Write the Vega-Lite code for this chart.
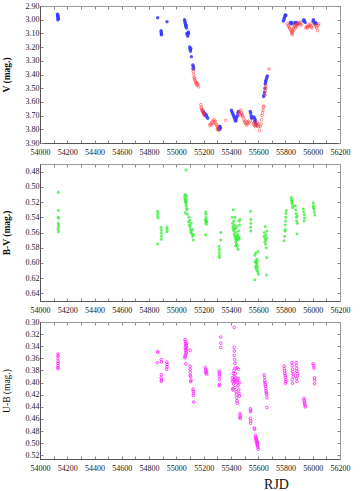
{
"$schema":"https://vega.github.io/schema/vega-lite/v6.json",
"background":"white",
"padding":{"left":0,"top":1,"right":5,"bottom":0},
"spacing":21,
"bounds":"flush",
"config":{"view":{"stroke":"#9a9a9a","strokeWidth":1},"axis":{"labelFont":"Liberation Serif","labelFontSize":8,"labelColor":"#222","titleFont":"Liberation Serif","titleColor":"#111","tickColor":"#888","domainColor":"#555","tickSize":-3,"grid":false,"labelPadding":4,"labelOverlap":false,"labelFlush":false},"axisBottom":{"labelPadding":8}},
"datasets":{
"V":[
{"t":54128,"v":2.96,"s":"B"},{"t":54130,"v":2.97,"s":"B"},{"t":54131,"v":2.975,"s":"B"},{"t":54132,"v":2.98,"s":"B"},{"t":54133,"v":2.985,"s":"B"},{"t":54134,"v":2.99,"s":"B"},{"t":54135,"v":2.995,"s":"B"},{"t":54131,"v":3.0,"s":"B"},{"t":54129,"v":2.965,"s":"B"},
{"t":54863,"v":2.985,"s":"B"},
{"t":54888,"v":3.08,"s":"B"},{"t":54889,"v":3.09,"s":"B"},{"t":54890,"v":3.1,"s":"B"},{"t":54891,"v":3.105,"s":"B"},{"t":54890,"v":3.11,"s":"B"},
{"t":54931,"v":3.015,"s":"B"},
{"t":55060,"v":3.0,"s":"B"},{"t":55062,"v":3.01,"s":"B"},{"t":55064,"v":3.02,"s":"B"},{"t":55066,"v":3.03,"s":"B"},{"t":55068,"v":3.04,"s":"B"},{"t":55070,"v":3.05,"s":"B"},{"t":55072,"v":3.04,"s":"B"},{"t":55074,"v":3.06,"s":"B"},{"t":55077,"v":3.1,"s":"B"},{"t":55080,"v":3.11,"s":"B"},{"t":55083,"v":3.12,"s":"B"},{"t":55085,"v":3.1,"s":"B"},{"t":55088,"v":3.09,"s":"B"},{"t":55090,"v":3.1,"s":"B"},
{"t":55098,"v":3.2,"s":"B"},{"t":55100,"v":3.21,"s":"B"},{"t":55102,"v":3.22,"s":"B"},{"t":55104,"v":3.23,"s":"B"},{"t":55106,"v":3.21,"s":"B"},{"t":55110,"v":3.27,"s":"B"},
{"t":55121,"v":3.33,"s":"B"},{"t":55123,"v":3.34,"s":"B"},{"t":55125,"v":3.35,"s":"B"},{"t":55127,"v":3.36,"s":"B"},
{"t":55197,"v":3.67,"s":"B"},{"t":55200,"v":3.68,"s":"B"},{"t":55204,"v":3.68,"s":"B"},{"t":55208,"v":3.69,"s":"B"},{"t":55212,"v":3.7,"s":"B"},{"t":55216,"v":3.69,"s":"B"},{"t":55220,"v":3.7,"s":"B"},{"t":55225,"v":3.71,"s":"B"},{"t":55230,"v":3.72,"s":"B"},
{"t":55308,"v":3.8,"s":"B"},{"t":55312,"v":3.79,"s":"B"},{"t":55316,"v":3.78,"s":"B"},{"t":55320,"v":3.78,"s":"B"},{"t":55324,"v":3.79,"s":"B"},{"t":55318,"v":3.8,"s":"B"},
{"t":55403,"v":3.66,"s":"B"},{"t":55407,"v":3.67,"s":"B"},{"t":55411,"v":3.68,"s":"B"},{"t":55415,"v":3.69,"s":"B"},{"t":55419,"v":3.7,"s":"B"},{"t":55423,"v":3.71,"s":"B"},{"t":55427,"v":3.72,"s":"B"},{"t":55431,"v":3.73,"s":"B"},{"t":55435,"v":3.73,"s":"B"},{"t":55439,"v":3.72,"s":"B"},{"t":55443,"v":3.71,"s":"B"},{"t":55447,"v":3.7,"s":"B"},{"t":55451,"v":3.68,"s":"B"},{"t":55455,"v":3.67,"s":"B"},{"t":55433,"v":3.74,"s":"B"},{"t":55437,"v":3.735,"s":"B"},
{"t":55542,"v":3.67,"s":"B"},{"t":55545,"v":3.68,"s":"B"},{"t":55548,"v":3.7,"s":"B"},{"t":55551,"v":3.72,"s":"B"},{"t":55553,"v":3.71,"s":"B"},
{"t":55568,"v":3.71,"s":"B"},{"t":55572,"v":3.72,"s":"B"},{"t":55576,"v":3.74,"s":"B"},{"t":55580,"v":3.75,"s":"B"},{"t":55584,"v":3.76,"s":"B"},{"t":55588,"v":3.77,"s":"B"},{"t":55578,"v":3.73,"s":"B"},
{"t":55640,"v":3.56,"s":"B"},{"t":55643,"v":3.55,"s":"B"},{"t":55646,"v":3.53,"s":"B"},{"t":55649,"v":3.5,"s":"B"},{"t":55652,"v":3.47,"s":"B"},{"t":55655,"v":3.45,"s":"B"},{"t":55658,"v":3.44,"s":"B"},{"t":55661,"v":3.43,"s":"B"},{"t":55664,"v":3.42,"s":"B"},{"t":55667,"v":3.41,"s":"B"},{"t":55654,"v":3.46,"s":"B"},
{"t":55785,"v":3.01,"s":"B"},{"t":55788,"v":3.0,"s":"B"},{"t":55791,"v":2.99,"s":"B"},{"t":55794,"v":2.98,"s":"B"},{"t":55797,"v":2.97,"s":"B"},{"t":55800,"v":2.965,"s":"B"},{"t":55803,"v":2.97,"s":"B"},
{"t":55836,"v":3.02,"s":"B"},{"t":55840,"v":3.03,"s":"B"},{"t":55845,"v":3.02,"s":"B"},{"t":55850,"v":3.03,"s":"B"},{"t":55870,"v":3.02,"s":"B"},{"t":55875,"v":3.03,"s":"B"},{"t":55880,"v":3.02,"s":"B"},{"t":55885,"v":3.03,"s":"B"},
{"t":55930,"v":3.01,"s":"B"},{"t":55935,"v":3.0,"s":"B"},{"t":55940,"v":3.01,"s":"B"},{"t":55945,"v":3.02,"s":"B"},
{"t":56002,"v":3.01,"s":"B"},{"t":56006,"v":3.0,"s":"B"},{"t":56010,"v":3.02,"s":"B"},{"t":56015,"v":3.03,"s":"B"},{"t":56020,"v":3.02,"s":"B"},{"t":56025,"v":3.03,"s":"B"},
{"t":55120,"v":3.36,"s":"R"},{"t":55124,"v":3.38,"s":"R"},{"t":55128,"v":3.4,"s":"R"},{"t":55130,"v":3.42,"s":"R"},{"t":55133,"v":3.43,"s":"R"},{"t":55136,"v":3.44,"s":"R"},{"t":55140,"v":3.45,"s":"R"},{"t":55143,"v":3.46,"s":"R"},{"t":55147,"v":3.47,"s":"R"},{"t":55150,"v":3.46,"s":"R"},{"t":55154,"v":3.48,"s":"R"},{"t":55158,"v":3.47,"s":"R"},{"t":55163,"v":3.49,"s":"R"},
{"t":55180,"v":3.62,"s":"R"},{"t":55182,"v":3.64,"s":"R"},{"t":55185,"v":3.65,"s":"R"},{"t":55188,"v":3.66,"s":"R"},{"t":55190,"v":3.67,"s":"R"},{"t":55194,"v":3.66,"s":"R"},{"t":55198,"v":3.68,"s":"R"},{"t":55202,"v":3.69,"s":"R"},{"t":55206,"v":3.7,"s":"R"},
{"t":55245,"v":3.77,"s":"R"},{"t":55250,"v":3.76,"s":"R"},{"t":55255,"v":3.77,"s":"R"},{"t":55260,"v":3.75,"s":"R"},{"t":55265,"v":3.76,"s":"R"},{"t":55270,"v":3.74,"s":"R"},{"t":55275,"v":3.73,"s":"R"},{"t":55280,"v":3.75,"s":"R"},{"t":55285,"v":3.74,"s":"R"},{"t":55290,"v":3.76,"s":"R"},{"t":55295,"v":3.77,"s":"R"},{"t":55300,"v":3.78,"s":"R"},{"t":55305,"v":3.79,"s":"R"},{"t":55310,"v":3.81,"s":"R"},{"t":55300,"v":3.8,"s":"R"},
{"t":55362,"v":3.735,"s":"R"},
{"t":55458,"v":3.68,"s":"R"},{"t":55462,"v":3.67,"s":"R"},{"t":55466,"v":3.69,"s":"R"},{"t":55470,"v":3.7,"s":"R"},{"t":55474,"v":3.66,"s":"R"},{"t":55478,"v":3.68,"s":"R"},{"t":55482,"v":3.69,"s":"R"},{"t":55486,"v":3.7,"s":"R"},{"t":55490,"v":3.71,"s":"R"},
{"t":55495,"v":3.73,"s":"R"},{"t":55500,"v":3.75,"s":"R"},{"t":55505,"v":3.74,"s":"R"},{"t":55510,"v":3.76,"s":"R"},{"t":55515,"v":3.77,"s":"R"},{"t":55520,"v":3.75,"s":"R"},{"t":55525,"v":3.76,"s":"R"},{"t":55530,"v":3.74,"s":"R"},{"t":55535,"v":3.75,"s":"R"},
{"t":55560,"v":3.74,"s":"R"},{"t":55565,"v":3.76,"s":"R"},{"t":55570,"v":3.77,"s":"R"},{"t":55575,"v":3.76,"s":"R"},{"t":55580,"v":3.78,"s":"R"},{"t":55585,"v":3.77,"s":"R"},{"t":55590,"v":3.76,"s":"R"},{"t":55595,"v":3.75,"s":"R"},{"t":55600,"v":3.78,"s":"R"},{"t":55605,"v":3.77,"s":"R"},{"t":55610,"v":3.81,"s":"R"},{"t":55615,"v":3.78,"s":"R"},{"t":55620,"v":3.76,"s":"R"},{"t":55625,"v":3.73,"s":"R"},{"t":55628,"v":3.7,"s":"R"},
{"t":55632,"v":3.68,"s":"R"},{"t":55635,"v":3.66,"s":"R"},{"t":55638,"v":3.64,"s":"R"},{"t":55640,"v":3.63,"s":"R"},
{"t":55650,"v":3.55,"s":"R"},{"t":55652,"v":3.52,"s":"R"},{"t":55655,"v":3.5,"s":"R"},{"t":55657,"v":3.48,"s":"R"},
{"t":55680,"v":3.36,"s":"R"},
{"t":55815,"v":3.03,"s":"R"},{"t":55820,"v":3.04,"s":"R"},{"t":55825,"v":3.05,"s":"R"},{"t":55830,"v":3.06,"s":"R"},{"t":55835,"v":3.07,"s":"R"},{"t":55840,"v":3.08,"s":"R"},{"t":55845,"v":3.09,"s":"R"},{"t":55848,"v":3.1,"s":"R"},{"t":55850,"v":3.11,"s":"R"},{"t":55852,"v":3.09,"s":"R"},{"t":55855,"v":3.08,"s":"R"},{"t":55858,"v":3.06,"s":"R"},{"t":55862,"v":3.07,"s":"R"},{"t":55866,"v":3.05,"s":"R"},{"t":55870,"v":3.04,"s":"R"},{"t":55875,"v":3.06,"s":"R"},{"t":55880,"v":3.05,"s":"R"},{"t":55885,"v":3.04,"s":"R"},{"t":55890,"v":3.03,"s":"R"},{"t":55895,"v":3.02,"s":"R"},{"t":55900,"v":3.03,"s":"R"},{"t":55905,"v":3.02,"s":"R"},{"t":55910,"v":3.03,"s":"R"},{"t":55915,"v":3.04,"s":"R"},
{"t":55950,"v":3.06,"s":"R"},{"t":55955,"v":3.05,"s":"R"},{"t":55960,"v":3.06,"s":"R"},{"t":55965,"v":3.05,"s":"R"},{"t":55970,"v":3.04,"s":"R"},{"t":55975,"v":3.05,"s":"R"},{"t":55980,"v":3.04,"s":"R"},{"t":55985,"v":3.03,"s":"R"},{"t":55990,"v":3.05,"s":"R"},{"t":55995,"v":3.06,"s":"R"},
{"t":56020,"v":3.04,"s":"R"},{"t":56025,"v":3.05,"s":"R"},{"t":56030,"v":3.06,"s":"R"},{"t":56035,"v":3.08,"s":"R"},{"t":56040,"v":3.04,"s":"R"},{"t":56045,"v":3.03,"s":"R"}
],
"BV":[
{"t":54134,"y":0.507},{"t":54135,"y":0.531},{"t":54133,"y":0.54},{"t":54136,"y":0.541},{"t":54134,"y":0.548},{"t":54136,"y":0.55},{"t":54135,"y":0.553},{"t":54133,"y":0.556},{"t":54136,"y":0.559},
{"t":54862,"y":0.532},{"t":54864,"y":0.535},{"t":54863,"y":0.538},{"t":54865,"y":0.541},{"t":54862,"y":0.575},
{"t":54888,"y":0.553},{"t":54890,"y":0.557},{"t":54889,"y":0.561},{"t":54891,"y":0.565},{"t":54890,"y":0.569},
{"t":54930,"y":0.553},{"t":54932,"y":0.556},{"t":54931,"y":0.559},
{"t":55071,"y":0.478},
{"t":55060,"y":0.512},{"t":55062,"y":0.515},{"t":55065,"y":0.518},{"t":55066,"y":0.51},{"t":55068,"y":0.52},{"t":55070,"y":0.522},{"t":55072,"y":0.525},{"t":55074,"y":0.512},{"t":55076,"y":0.528},{"t":55078,"y":0.53},{"t":55064,"y":0.534},{"t":55080,"y":0.536},{"t":55070,"y":0.516},{"t":55074,"y":0.519},
{"t":55088,"y":0.546},{"t":55092,"y":0.54},{"t":55095,"y":0.55},{"t":55098,"y":0.544},{"t":55100,"y":0.552},{"t":55103,"y":0.556},{"t":55106,"y":0.56},{"t":55110,"y":0.558},{"t":55114,"y":0.562},{"t":55118,"y":0.556},{"t":55120,"y":0.565},{"t":55124,"y":0.57},{"t":55126,"y":0.563},{"t":55108,"y":0.548},
{"t":55215,"y":0.533},{"t":55217,"y":0.536},{"t":55218,"y":0.54},{"t":55216,"y":0.543},{"t":55219,"y":0.545},{"t":55217,"y":0.547},{"t":55220,"y":0.549},{"t":55214,"y":0.563},{"t":55222,"y":0.546},{"t":55213,"y":0.544},
{"t":55313,"y":0.578},{"t":55315,"y":0.582},{"t":55314,"y":0.586},{"t":55316,"y":0.59},{"t":55315,"y":0.593},{"t":55326,"y":0.56},{"t":55325,"y":0.57},
{"t":55410,"y":0.54},{"t":55412,"y":0.548},{"t":55414,"y":0.552},{"t":55416,"y":0.555},{"t":55418,"y":0.53},{"t":55420,"y":0.558},{"t":55422,"y":0.545},{"t":55424,"y":0.562},{"t":55426,"y":0.55},{"t":55428,"y":0.565},{"t":55430,"y":0.54},{"t":55432,"y":0.568},{"t":55434,"y":0.555},{"t":55436,"y":0.572},{"t":55438,"y":0.56},{"t":55440,"y":0.565},{"t":55442,"y":0.575},{"t":55444,"y":0.552},{"t":55446,"y":0.568},{"t":55448,"y":0.578},{"t":55450,"y":0.563},{"t":55452,"y":0.582},{"t":55454,"y":0.57},{"t":55456,"y":0.558},{"t":55458,"y":0.566},{"t":55460,"y":0.545},{"t":55462,"y":0.568},{"t":55464,"y":0.55},{"t":55466,"y":0.543},{"t":55440,"y":0.57},{"t":55445,"y":0.566},{"t":55435,"y":0.577},{"t":55425,"y":0.554},
{"t":55544,"y":0.532},{"t":55545,"y":0.543},{"t":55546,"y":0.548},{"t":55544,"y":0.553},{"t":55546,"y":0.558},
{"t":55575,"y":0.59},{"t":55578,"y":0.598},{"t":55580,"y":0.605},{"t":55582,"y":0.587},{"t":55584,"y":0.6},{"t":55586,"y":0.608},{"t":55588,"y":0.595},{"t":55590,"y":0.603},{"t":55592,"y":0.61},{"t":55594,"y":0.597},{"t":55596,"y":0.606},{"t":55598,"y":0.612},{"t":55600,"y":0.585},{"t":55602,"y":0.615},{"t":55576,"y":0.622},{"t":55590,"y":0.6},
{"t":55642,"y":0.565},{"t":55645,"y":0.56},{"t":55648,"y":0.572},{"t":55650,"y":0.568},{"t":55652,"y":0.552},{"t":55654,"y":0.575},{"t":55656,"y":0.563},{"t":55658,"y":0.57},{"t":55660,"y":0.58},{"t":55662,"y":0.567},{"t":55664,"y":0.558},{"t":55663,"y":0.593},{"t":55661,"y":0.616},
{"t":55790,"y":0.571},{"t":55793,"y":0.565},{"t":55796,"y":0.558},{"t":55798,"y":0.55},{"t":55800,"y":0.545},{"t":55802,"y":0.54},{"t":55804,"y":0.535},{"t":55806,"y":0.531},{"t":55798,"y":0.556},
{"t":55842,"y":0.514},{"t":55845,"y":0.517},{"t":55848,"y":0.52},{"t":55850,"y":0.522},{"t":55852,"y":0.525},{"t":55854,"y":0.527},{"t":55846,"y":0.518},
{"t":55872,"y":0.525},{"t":55875,"y":0.53},{"t":55878,"y":0.535},{"t":55880,"y":0.54},{"t":55882,"y":0.545},{"t":55885,"y":0.538},{"t":55884,"y":0.562},{"t":55888,"y":0.548},
{"t":55930,"y":0.529},{"t":55934,"y":0.533},{"t":55938,"y":0.537},{"t":55940,"y":0.541},{"t":55936,"y":0.545},
{"t":56003,"y":0.521},{"t":56006,"y":0.525},{"t":56009,"y":0.529},{"t":56012,"y":0.533},{"t":56015,"y":0.537},{"t":56005,"y":0.527}
],
"UB":[
{"t":54132,"y":0.353},{"t":54133,"y":0.356},{"t":54131,"y":0.36},{"t":54134,"y":0.365},{"t":54132,"y":0.368},{"t":54133,"y":0.372},{"t":54131,"y":0.375},{"t":54134,"y":0.377},
{"t":54862,"y":0.349},{"t":54864,"y":0.35},{"t":54860,"y":0.367},
{"t":54889,"y":0.362},{"t":54891,"y":0.366},{"t":54890,"y":0.387},{"t":54889,"y":0.392},{"t":54891,"y":0.396},{"t":54890,"y":0.398},
{"t":54930,"y":0.366},{"t":54932,"y":0.37},{"t":54931,"y":0.374},{"t":54930,"y":0.378},
{"t":55063,"y":0.329},{"t":55066,"y":0.332},{"t":55068,"y":0.335},{"t":55070,"y":0.338},{"t":55072,"y":0.34},{"t":55065,"y":0.342},{"t":55067,"y":0.345},{"t":55069,"y":0.347},{"t":55071,"y":0.35},{"t":55073,"y":0.352},{"t":55064,"y":0.355},{"t":55066,"y":0.357},{"t":55062,"y":0.359},{"t":55070,"y":0.369},{"t":55075,"y":0.336},{"t":55078,"y":0.344},
{"t":55102,"y":0.347},{"t":55100,"y":0.373},{"t":55101,"y":0.378},{"t":55103,"y":0.383},{"t":55102,"y":0.388},{"t":55104,"y":0.39},{"t":55105,"y":0.398},{"t":55107,"y":0.396},
{"t":55122,"y":0.411},{"t":55124,"y":0.414},{"t":55126,"y":0.418},{"t":55125,"y":0.421},{"t":55127,"y":0.432},
{"t":55212,"y":0.375},{"t":55215,"y":0.378},{"t":55218,"y":0.38},{"t":55220,"y":0.382},{"t":55216,"y":0.384},{"t":55222,"y":0.386},
{"t":55314,"y":0.381},{"t":55316,"y":0.384},{"t":55315,"y":0.387},{"t":55317,"y":0.39},{"t":55315,"y":0.395},{"t":55314,"y":0.405},{"t":55316,"y":0.403},
{"t":55325,"y":0.325},{"t":55326,"y":0.335},{"t":55325,"y":0.342},
{"t":55425,"y":0.309},{"t":55424,"y":0.342},{"t":55426,"y":0.348},{"t":55425,"y":0.355},{"t":55427,"y":0.362},{"t":55429,"y":0.368},{"t":55431,"y":0.376},
{"t":55410,"y":0.392},{"t":55412,"y":0.398},{"t":55414,"y":0.41},{"t":55416,"y":0.385},{"t":55418,"y":0.396},{"t":55420,"y":0.402},{"t":55422,"y":0.38},{"t":55424,"y":0.39},{"t":55426,"y":0.395},{"t":55428,"y":0.4},{"t":55430,"y":0.408},{"t":55432,"y":0.385},{"t":55434,"y":0.392},{"t":55436,"y":0.398},{"t":55438,"y":0.415},{"t":55440,"y":0.42},{"t":55442,"y":0.425},{"t":55444,"y":0.43},{"t":55446,"y":0.434},{"t":55448,"y":0.395},{"t":55450,"y":0.4},{"t":55452,"y":0.405},{"t":55454,"y":0.393},{"t":55456,"y":0.378},{"t":55458,"y":0.412},{"t":55460,"y":0.418},{"t":55462,"y":0.422},{"t":55464,"y":0.4},{"t":55445,"y":0.376},{"t":55415,"y":0.412},
{"t":55466,"y":0.451},{"t":55468,"y":0.454},{"t":55467,"y":0.457},{"t":55469,"y":0.459},
{"t":55543,"y":0.443},{"t":55545,"y":0.446},{"t":55544,"y":0.448},{"t":55543,"y":0.459},{"t":55545,"y":0.463},{"t":55544,"y":0.467},
{"t":55572,"y":0.475},{"t":55574,"y":0.477},{"t":55580,"y":0.487},{"t":55582,"y":0.49},{"t":55584,"y":0.493},{"t":55586,"y":0.495},{"t":55588,"y":0.497},{"t":55590,"y":0.499},{"t":55592,"y":0.501},{"t":55594,"y":0.503},{"t":55596,"y":0.505},{"t":55598,"y":0.507},{"t":55600,"y":0.51},{"t":55585,"y":0.492},{"t":55595,"y":0.498},
{"t":55644,"y":0.387},{"t":55646,"y":0.392},{"t":55648,"y":0.397},{"t":55650,"y":0.4},{"t":55652,"y":0.403},{"t":55654,"y":0.406},{"t":55656,"y":0.41},{"t":55658,"y":0.414},{"t":55660,"y":0.417},{"t":55662,"y":0.42},{"t":55664,"y":0.425},{"t":55663,"y":0.441},
{"t":55790,"y":0.373},{"t":55792,"y":0.377},{"t":55794,"y":0.381},{"t":55796,"y":0.385},{"t":55798,"y":0.388},{"t":55800,"y":0.391},{"t":55802,"y":0.395},{"t":55804,"y":0.398},{"t":55800,"y":0.401},
{"t":55848,"y":0.367},{"t":55850,"y":0.372},{"t":55852,"y":0.378},{"t":55854,"y":0.382},{"t":55856,"y":0.386},{"t":55858,"y":0.39},{"t":55850,"y":0.395},{"t":55852,"y":0.401},
{"t":55878,"y":0.367},{"t":55880,"y":0.372},{"t":55882,"y":0.377},{"t":55884,"y":0.381},{"t":55886,"y":0.385},{"t":55888,"y":0.389},{"t":55882,"y":0.393},{"t":55884,"y":0.398},
{"t":55935,"y":0.426},{"t":55937,"y":0.429},{"t":55939,"y":0.432},{"t":55941,"y":0.435},{"t":55943,"y":0.437},{"t":55945,"y":0.44},
{"t":56003,"y":0.369},{"t":56006,"y":0.372},{"t":56009,"y":0.376},{"t":56012,"y":0.392},{"t":56014,"y":0.396},{"t":56013,"y":0.402}
]
},
"vconcat":[
{"width":300,"height":137,"data":{"name":"V"},
"layer":[
{"transform":[{"filter":"datum.s=='B'"}],
"mark":{"type":"point","shape":"circle","filled":true,"color":"#3a3aff","size":12,"opacity":0.85},
"encoding":{
"x":{"field":"t","type":"quantitative","scale":{"domain":[54000,56200],"nice":false,"zero":false},"axis":{"orient":"bottom","title":null,"values":[54000,54100,54200,54300,54400,54500,54600,54700,54800,54900,55000,55100,55200,55300,55400,55500,55600,55700,55800,55900,56000,56100,56200],"format":"d","labelExpr":"datum.value % 200 == 0 ? datum.label : ''"}},
"y":{"field":"v","type":"quantitative","scale":{"domain":[2.9,3.9],"reverse":true,"nice":false,"zero":false},"axis":{"orient":"left","title":"V (mag.)","titleFontSize":9.5,"titleFontWeight":"bold","titlePadding":14,"values":[2.9,3.0,3.1,3.2,3.3,3.4,3.5,3.6,3.7,3.8,3.9],"format":".2f"}}}},
{"transform":[{"filter":"datum.s=='R'"}],
"mark":{"type":"point","shape":"circle","filled":false,"color":"#ff3a3a","size":7,"opacity":0.75,"strokeWidth":0.8},
"encoding":{
"x":{"field":"t","type":"quantitative","scale":{"domain":[54000,56200],"nice":false,"zero":false},"axis":{"orient":"top","title":null,"labels":false,"domainColor":"#9a9a9a","values":[54000,54100,54200,54300,54400,54500,54600,54700,54800,54900,55000,55100,55200,55300,55400,55500,55600,55700,55800,55900,56000,56100,56200]}},
"y":{"field":"v","type":"quantitative","scale":{"domain":[2.9,3.9],"reverse":true,"nice":false,"zero":false},"axis":{"orient":"right","title":null,"labels":false,"domainColor":"#9a9a9a","values":[2.9,3.0,3.1,3.2,3.3,3.4,3.5,3.6,3.7,3.8,3.9]}}}}
],
"resolve":{"axis":{"x":"independent","y":"independent"}}},
{"width":300,"height":137,"data":{"name":"BV"},
"layer":[
{"mark":{"type":"point","shape":"circle","filled":true,"color":"#33ee33","size":9,"opacity":0.75},
"encoding":{
"x":{"field":"t","type":"quantitative","scale":{"domain":[54000,56200],"nice":false,"zero":false},"axis":{"orient":"bottom","title":null,"values":[54000,54100,54200,54300,54400,54500,54600,54700,54800,54900,55000,55100,55200,55300,55400,55500,55600,55700,55800,55900,56000,56100,56200],"format":"d","labelExpr":"datum.value % 200 == 0 ? datum.label : ''"}},
"y":{"field":"y","type":"quantitative","scale":{"domain":[0.47,0.65],"reverse":true,"nice":false,"zero":false},"axis":{"orient":"left","title":"B-V (mag.)","titleFontSize":9.5,"titleFontWeight":"bold","titlePadding":14,"values":[0.48,0.5,0.52,0.54,0.56,0.58,0.6,0.62,0.64],"format":".2f"}}}},
{"mark":{"type":"point","opacity":0},
"encoding":{
"x":{"field":"t","type":"quantitative","scale":{"domain":[54000,56200],"nice":false,"zero":false},"axis":{"orient":"top","title":null,"labels":false,"domainColor":"#9a9a9a","values":[54000,54100,54200,54300,54400,54500,54600,54700,54800,54900,55000,55100,55200,55300,55400,55500,55600,55700,55800,55900,56000,56100,56200]}},
"y":{"field":"y","type":"quantitative","scale":{"domain":[0.47,0.65],"reverse":true,"nice":false,"zero":false},"axis":{"orient":"right","title":null,"labels":false,"domainColor":"#9a9a9a","values":[0.48,0.5,0.52,0.54,0.56,0.58,0.6,0.62,0.64]}}}}
],
"resolve":{"axis":{"x":"independent","y":"independent"}}},
{"width":300,"height":137,"data":{"name":"UB"},
"layer":[
{"mark":{"type":"point","shape":"circle","filled":false,"color":"#ff22ff","size":7,"opacity":0.85,"strokeWidth":1},
"encoding":{
"x":{"field":"t","type":"quantitative","scale":{"domain":[54000,56200],"nice":false,"zero":false},"axis":{"orient":"bottom","title":"RJD","titleFontSize":14,"titleFontWeight":"normal","titleX":236,"titleY":29,"titleAlign":"center","titleBaseline":"alphabetic","values":[54000,54100,54200,54300,54400,54500,54600,54700,54800,54900,55000,55100,55200,55300,55400,55500,55600,55700,55800,55900,56000,56100,56200],"format":"d","labelExpr":"datum.value % 200 == 0 ? datum.label : ''"}},
"y":{"field":"y","type":"quantitative","scale":{"domain":[0.3,0.526],"reverse":true,"nice":false,"zero":false},"axis":{"orient":"left","title":"U-B (mag.)","titleFontSize":9.5,"titleFontWeight":"normal","titlePadding":14,"values":[0.3,0.32,0.34,0.36,0.38,0.4,0.42,0.44,0.46,0.48,0.5,0.52],"format":".2f"}}}},
{"mark":{"type":"point","opacity":0},
"encoding":{
"x":{"field":"t","type":"quantitative","scale":{"domain":[54000,56200],"nice":false,"zero":false},"axis":{"orient":"top","title":null,"labels":false,"domainColor":"#9a9a9a","values":[54000,54100,54200,54300,54400,54500,54600,54700,54800,54900,55000,55100,55200,55300,55400,55500,55600,55700,55800,55900,56000,56100,56200]}},
"y":{"field":"y","type":"quantitative","scale":{"domain":[0.3,0.526],"reverse":true,"nice":false,"zero":false},"axis":{"orient":"right","title":null,"labels":false,"domainColor":"#9a9a9a","values":[0.3,0.32,0.34,0.36,0.38,0.4,0.42,0.44,0.46,0.48,0.5,0.52]}}}}
],
"resolve":{"axis":{"x":"independent","y":"independent"}}}
]
}
